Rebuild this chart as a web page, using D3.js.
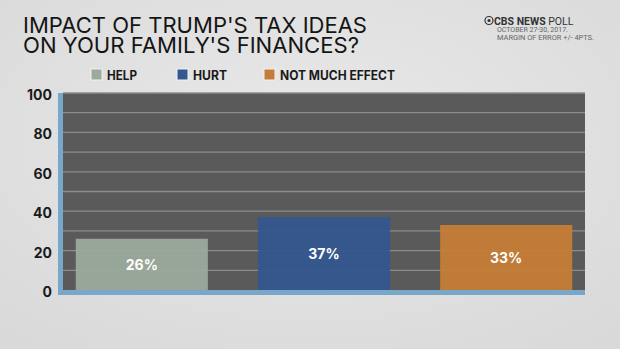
<!DOCTYPE html>
<html><head><meta charset="utf-8">
<script src="https://cdn.jsdelivr.net/npm/d3@7"></script>
<style>html,body{margin:0;padding:0;background:#e3e3e3;}svg{display:block;}</style>
</head><body>
<script>
const categories = ["HELP", "HURT", "NOT MUCH EFFECT"];
const values = [26, 37, 33];
const barColors = ["#9baa9d", "#34578f", "#c47d36"];
const yTicks = [0, 20, 40, 60, 80, 100];
const gridTicks = [10, 20, 30, 40, 50, 60, 70, 80, 90, 100];
const titleLines = ["IMPACT OF TRUMP'S TAX IDEAS", "ON YOUR FAMILY'S FINANCES?"];

const W = 620, H = 349;
const svg = d3.select("body").append("svg").attr("width", W).attr("height", H);

const defs = svg.append("defs");
const rg = defs.append("radialGradient").attr("id", "bg").attr("cx", "50%").attr("cy", "40%").attr("r", "75%");
rg.append("stop").attr("offset", "0%").attr("stop-color", "#e9e9e9");
rg.append("stop").attr("offset", "100%").attr("stop-color", "#d9d9d9");
svg.append("rect").attr("width", W).attr("height", H).attr("fill", "url(#bg)");

const x = d3.scaleBand().domain(categories).range([63, 585]).paddingInner(0.275).paddingOuter(0.07);
const y = d3.scaleLinear().domain([0, 100]).range([290, 93]);

// plot background
svg.append("rect").attr("x", 63).attr("y", y(100)).attr("width", 585 - 63).attr("height", y(0) - y(100)).attr("fill", "#5a5a5a");

// gridlines
svg.append("g").selectAll("line").data(gridTicks).join("line")
  .attr("x1", 63).attr("x2", 585).attr("y1", d => y(d)).attr("y2", d => y(d))
  .attr("stroke", "#8c8c8c").attr("stroke-width", 1.3);

// bars
svg.append("g").selectAll("rect").data(values).join("rect")
  .attr("x", (d, i) => x(categories[i])).attr("width", x.bandwidth())
  .attr("y", d => y(d)).attr("height", d => y(0) - y(d))
  .attr("fill", (d, i) => barColors[i]).attr("opacity", 0.96);

// bar labels
svg.append("g").selectAll("text").data(values).join("text")
  .attr("x", (d, i) => x(categories[i]) + x.bandwidth() / 2)
  .attr("y", d => (y(d) + y(0)) / 2 + 1)
  .attr("dy", "0.35em").attr("text-anchor", "middle")
  .attr("fill", "#ffffff").attr("font-family", "Inter, Roboto, sans-serif")
  .attr("font-weight", 700).attr("font-size", 14)
  .text(d => d + "%");

// axis strips
svg.append("rect").attr("x", 58).attr("y", y(100)).attr("width", 5).attr("height", 295 - y(100)).attr("fill", "#79a7c9");
svg.append("rect").attr("x", 58).attr("y", 290).attr("width", 585 - 58).attr("height", 5).attr("fill", "#79a7c9");

// y axis
const yAxis = d3.axisLeft(y).tickValues(yTicks).tickSize(0).tickPadding(0);
const ag = svg.append("g").attr("transform", "translate(52,2)").call(yAxis);
ag.select(".domain").remove();
ag.selectAll("text").attr("font-family", "Inter, Roboto, sans-serif").attr("font-weight", 700)
  .attr("font-size", 14).attr("fill", "#1a1a1a");

// title (one text element, two lines)
const title = svg.append("text")
  .attr("font-family", "Inter, Roboto, sans-serif").attr("font-weight", 400)
  .attr("font-size", 22).attr("fill", "#151515");
titleLines.forEach((t, i) => {
  title.append("tspan").attr("x", 23).attr("y", 33 + i * 20)
    .attr("textLength", i === 0 ? 344 : 336).attr("lengthAdjust", "spacingAndGlyphs")
    .text(t);
});

// legend
const legX = [91, 177, 264];
const legTextLen = [30, 34, 115];
const lg = svg.append("g");
categories.forEach((c, i) => {
  lg.append("rect").attr("x", legX[i]).attr("y", 69).attr("width", 11).attr("height", 11)
    .attr("fill", barColors[i]).attr("stroke", "#f2f2f2").attr("stroke-width", 1);
  lg.append("text").attr("x", legX[i] + 16).attr("y", 79.5)
    .attr("font-family", "Inter, Roboto, sans-serif").attr("font-weight", 700)
    .attr("font-size", 12.5).attr("fill", "#1a1a1a")
    .attr("textLength", legTextLen[i]).attr("lengthAdjust", "spacingAndGlyphs")
    .text(c);
});

// CBS badge
const cb = svg.append("g");
cb.append("circle").attr("cx", 489).attr("cy", 20.5).attr("r", 4).attr("fill", "none").attr("stroke", "#333").attr("stroke-width", 1.2);
cb.append("circle").attr("cx", 489).attr("cy", 20.5).attr("r", 1.6).attr("fill", "#333");
const ct = cb.append("text").attr("x", 494).attr("y", 24.5)
  .attr("font-family", "Roboto, 'Liberation Sans', sans-serif").attr("font-size", 10.5).attr("fill", "#333");
ct.append("tspan").attr("font-weight", 700).text("CBS NEWS ");
ct.append("tspan").attr("font-weight", 400).text("POLL");
cb.append("text").attr("x", 497).attr("y", 32).attr("font-family", "Roboto, 'Liberation Sans', sans-serif")
  .attr("font-size", 7).attr("fill", "#666").text("OCTOBER 27-30, 2017.");
cb.append("text").attr("x", 497).attr("y", 39.5).attr("font-family", "Roboto, 'Liberation Sans', sans-serif")
  .attr("font-size", 7).attr("fill", "#666").attr("textLength", 97).attr("lengthAdjust", "spacingAndGlyphs")
  .text("MARGIN OF ERROR +/- 4PTS.");
</script>
</body></html>
